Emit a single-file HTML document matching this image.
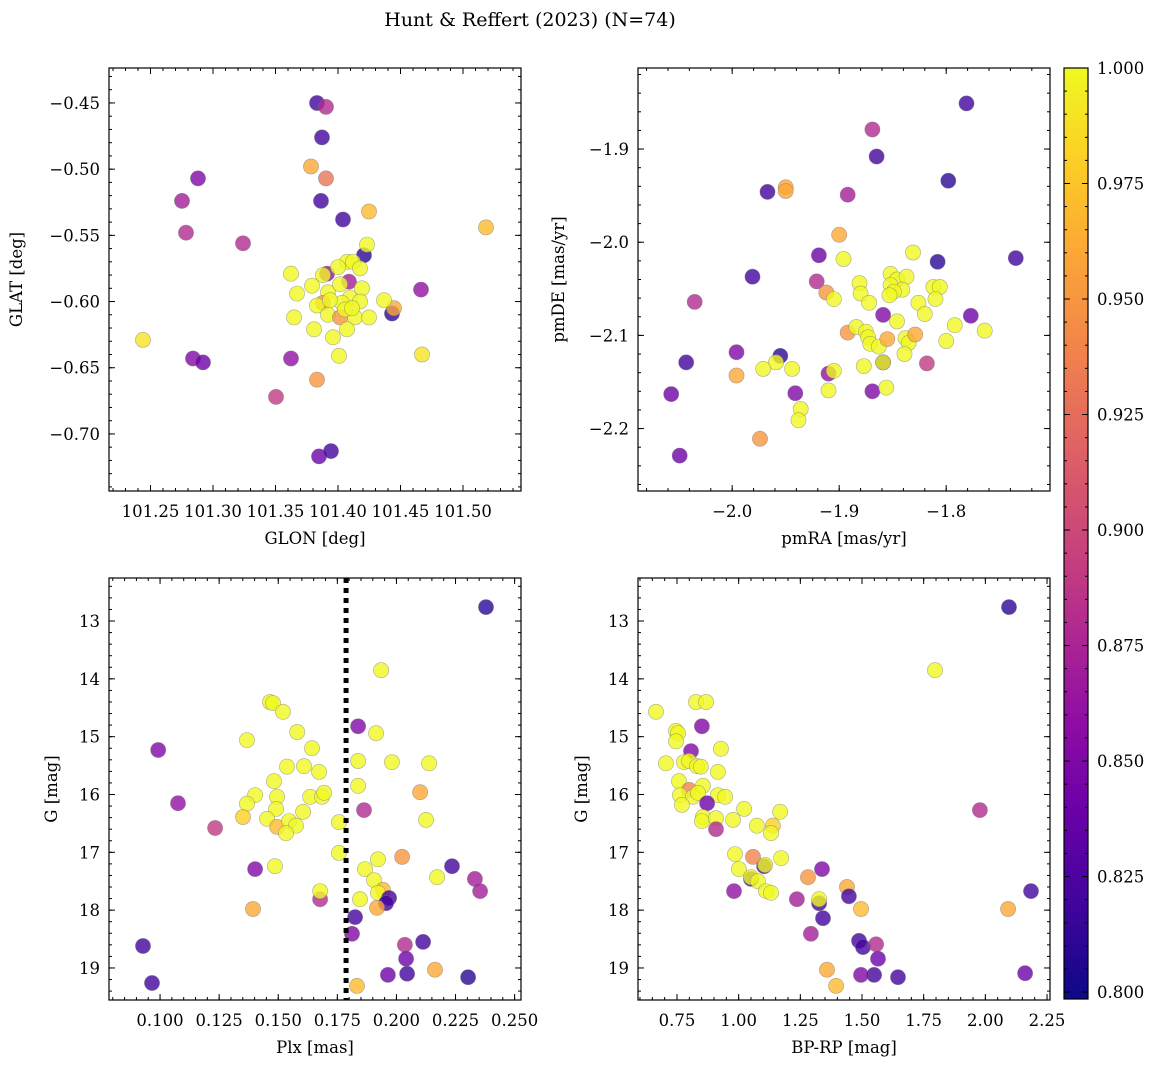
<!DOCTYPE html>
<html>
<head>
<meta charset="utf-8">
<style>
  html,body{margin:0;padding:0;background:#fff;}
  svg{display:block;font-family:"DejaVu Serif","Liberation Serif",serif;}
</style>
</head>
<body>
<svg id="fig" width="1161" height="1068" viewBox="0 0 1161 1068" xmlns="http://www.w3.org/2000/svg">
  <defs>
    <linearGradient id="plasma" x1="0" y1="1" x2="0" y2="0">
      <stop offset="0" stop-color="#0d0887"/>
      <stop offset="0.1" stop-color="#41049d"/>
      <stop offset="0.2" stop-color="#6a00a8"/>
      <stop offset="0.3" stop-color="#8f0da4"/>
      <stop offset="0.4" stop-color="#b12a90"/>
      <stop offset="0.5" stop-color="#cc4778"/>
      <stop offset="0.6" stop-color="#e16462"/>
      <stop offset="0.7" stop-color="#f2844b"/>
      <stop offset="0.8" stop-color="#fca636"/>
      <stop offset="0.9" stop-color="#fcce25"/>
      <stop offset="1" stop-color="#f0f921"/>
    </linearGradient>
  </defs>
  <text x="530" y="26" font-size="19" text-anchor="middle">Hunt &amp; Reffert (2023) (N=74)</text>
</svg>
<script>
// ---- Panel 1: GLON vs GLAT ----
const p1_glon=[101.3832,101.3904,101.3872,101.3784,101.3904,101.288,101.2752,101.3864,101.404,101.2784,
101.4248,101.5184,101.324,101.4208,101.4232,101.244,101.284,101.292,101.3624,101.3504,
101.3832,101.3848,101.3944,101.4664,101.4432,101.4448,101.4672,101.3624,101.3912,101.388,
101.4072,101.412,101.400,101.4176,101.4088,101.3792,101.3672,101.392,101.4016,101.4192,
101.4096,101.388,101.3832,101.4032,101.4176,101.4368,101.3648,101.392,101.4016,101.4136,
101.4248,101.3808,101.4072,101.396,101.4008,101.3936,101.4056,101.4112];
const p1_glat=[-0.450,-0.453,-0.476,-0.498,-0.507,-0.507,-0.524,-0.524,-0.538,-0.548,
-0.532,-0.544,-0.556,-0.565,-0.557,-0.629,-0.643,-0.646,-0.643,-0.672,
-0.659,-0.717,-0.713,-0.591,-0.609,-0.605,-0.640,-0.579,-0.579,-0.580,
-0.570,-0.570,-0.574,-0.575,-0.585,-0.588,-0.594,-0.593,-0.587,-0.590,
-0.597,-0.601,-0.603,-0.601,-0.600,-0.599,-0.612,-0.610,-0.612,-0.612,
-0.612,-0.621,-0.621,-0.627,-0.641,-0.599,-0.606,-0.605];
const p1_prob=[.82,.88,.82,.96,.93,.85,.87,.82,.82,.88,
.97,.97,.88,.81,1,.99,.85,.84,.86,.89,
.95,.84,.82,.86,.81,.96,.99,1,.86,1,
1,1,1,1,.87,1,1,1,1,1,
1,.95,1,1,1,1,1,1,.95,1,
1,1,1,1,1,1,1,1];

// ---- Panel 2: pmRA vs pmDE ----
const p2_pmra=[-1.781,-1.869,-1.865,-1.798,-1.967,-1.950,-1.950,-1.892,-1.900,-1.919,
-1.896,-1.831,-1.808,-1.735,-1.981,-1.921,-1.912,-1.905,-1.881,-1.880,
-1.872,-1.852,-1.846,-1.837,-1.852,-1.841,-1.849,-1.853,-1.812,-1.806,
-1.810,-1.826,-1.820,-1.859,-1.846,-1.792,-1.777,-1.764,-1.800,-1.892,
-1.884,-1.875,-1.873,-1.871,-1.863,-1.855,-1.838,-1.835,-1.829,-1.839,
-1.859,-1.818,-1.877,-1.944,-1.910,-1.905,-1.910,-1.941,-1.869,-1.856,
-2.035,-1.996,-1.955,-2.043,-1.959,-1.971,-1.996,-2.057,-1.936,-1.938,
-1.974,-2.049,-1.859];
const p2_pmde=[-1.851,-1.879,-1.908,-1.934,-1.946,-1.941,-1.945,-1.949,-1.992,-2.014,
-2.018,-2.011,-2.021,-2.017,-2.037,-2.042,-2.054,-2.061,-2.044,-2.055,
-2.065,-2.034,-2.040,-2.037,-2.046,-2.051,-2.053,-2.057,-2.048,-2.048,
-2.061,-2.065,-2.077,-2.078,-2.085,-2.089,-2.079,-2.095,-2.106,-2.097,
-2.091,-2.096,-2.102,-2.109,-2.112,-2.104,-2.103,-2.108,-2.099,-2.120,
-2.129,-2.130,-2.133,-2.136,-2.141,-2.138,-2.159,-2.162,-2.160,-2.156,
-2.064,-2.118,-2.122,-2.129,-2.129,-2.136,-2.143,-2.163,-2.179,-2.191,
-2.211,-2.229,-2.129];
const p2_prob=[.82,.88,.82,.81,.82,.96,.96,.87,.96,.84,
1,1,.81,.82,.82,.88,.95,1,1,1,
1,1,1,1,1,1,1,1,1,1,
1,1,1,.85,1,1,.84,1,1,.95,
1,1,1,1,1,.96,1,1,.96,1,
.82,.89,1,1,.86,1,1,.85,.85,1,
.88,.85,.81,.82,1,1,.96,.84,1,1,
.95,.84,1];

// ---- Panel 3: Plx vs G ----
const p3_plx=[0.2379,0.1935,0.0992,0.1368,0.1076,0.1233,0.2138,0.1981,0.1914,0.1838,
0.1838,0.1838,0.2100,0.1863,0.2125,0.1757,0.1757,0.1867,0.1922,0.1905,
0.2024,0.1402,0.1486,0.1677,0.1677,0.1943,0.1922,0.1969,0.1956,0.1846,
0.1393,0.1918,0.1825,0.1812,0.2235,0.2332,0.2172,0.2354,0.2113,0.2036,
0.2041,0.2163,0.2045,0.1964,0.0928,0.0966,0.2303,0.1833,
0.1465,0.1478,0.1520,0.1580,0.1643,0.1537,0.1609,0.1673,0.1482,0.1402,
0.1495,0.1635,0.1685,0.1694,0.1368,0.1491,0.1605,0.1351,0.1453,0.1495,
0.1546,0.1575,0.1533];
const p3_g=[12.76,13.85,15.23,15.06,16.15,16.58,15.46,15.44,14.94,14.82,
15.42,15.85,15.96,16.27,16.44,17.01,16.48,17.29,17.12,17.48,
17.08,17.29,17.24,17.81,17.67,17.65,17.70,17.79,17.88,17.81,
17.98,17.96,18.12,18.41,17.24,17.46,17.43,17.67,18.55,18.60,
18.84,19.03,19.10,19.12,18.62,19.26,19.16,19.31,
14.40,14.42,14.57,14.92,15.20,15.52,15.51,15.61,15.77,16.01,
16.04,16.04,16.04,15.97,16.16,16.25,16.30,16.39,16.42,16.56,
16.46,16.54,16.67];
const p3_prob=[.81,1,.85,1,.86,.89,1,1,1,.85,
1,1,.96,.88,1,1,1,1,1,1,
.95,.85,1,.88,1,.97,1,.82,.82,1,
.96,.96,.82,.85,.82,.87,1,.87,.82,.88,
.84,.96,.82,.84,.82,.82,.81,.97,
1,1,1,1,1,1,1,1,1,1,
1,1,1,1,1,1,1,.98,1,.97,
1,1,1];
const p3_cut=[0.1787];

// ---- Panel 4: BP-RP vs G ----
const p4_bprp=[0.665,0.827,0.868,0.851,0.746,0.754,0.746,0.807,0.928,0.705,
0.778,0.799,0.831,0.847,0.916,0.758,0.855,0.799,0.762,0.815,
0.835,0.916,0.945,0.770,0.872,0.855,0.851,0.908,0.908,0.977,
1.022,1.168,1.074,1.139,1.131,0.985,1.058,1.172,1.103,1.107,
1.001,1.050,1.050,1.078,1.111,1.131,0.981,1.281,1.338,1.236,
1.326,1.326,1.342,2.096,1.796,1.978,2.092,2.185,2.161,1.488,
1.504,1.557,1.565,1.549,1.496,1.358,1.395,1.293,1.439,1.447,
1.496,1.646];
const p4_g=[14.57,14.40,14.40,14.82,14.90,14.94,15.08,15.25,15.21,15.46,
15.44,15.42,15.51,15.52,15.61,15.77,15.85,15.92,16.01,16.04,
15.97,16.01,16.04,16.18,16.15,16.39,16.46,16.41,16.60,16.44,
16.25,16.30,16.54,16.54,16.67,17.03,17.08,17.10,17.24,17.22,
17.29,17.46,17.43,17.50,17.67,17.70,17.67,17.43,17.29,17.81,
17.88,17.81,18.14,12.76,13.85,16.27,17.98,17.67,19.09,18.53,
18.64,18.59,18.84,19.12,19.12,19.03,19.31,18.41,17.60,17.76,
17.98,19.16];
const p4_prob=[1,1,1,.85,1,1,1,.85,1,1,
1,1,1,1,1,1,1,.94,1,1,
1,1,1,1,.84,1,1,1,.88,1,
1,1,1,.98,1,1,.94,1,.82,1,
1,.82,1,1,1,1,.86,.95,.85,.87,
.82,1,.82,.81,1,.88,.96,.82,.84,.82,
.82,.88,.84,.82,.85,.96,.97,.87,.96,.82,
.97,.82];

// ---- Colorbar ----
const cbar_ticks=[0.800,0.825,0.850,0.875,0.900,0.925,0.950,0.975,1.000];
const cmin=0.7985, cmax=1.0;

const NS="http://www.w3.org/2000/svg";
const svg=document.getElementById('fig');
const stops=["#0d0887","#41049d","#6a00a8","#8f0da4","#b12a90","#cc4778","#e16462","#f2844b","#fca636","#fcce25","#f0f921"];
function hex2rgb(h){return [parseInt(h.substr(1,2),16),parseInt(h.substr(3,2),16),parseInt(h.substr(5,2),16)];}
function plasma(v){
  let t=(v-cmin)/(cmax-cmin); t=Math.max(0,Math.min(1,t));
  const f=t*10, i=Math.min(9,Math.floor(f)), r=f-i;
  const a=hex2rgb(stops[i]), b=hex2rgb(stops[i+1]);
  return 'rgb('+a.map((c,k)=>Math.round(c+(b[k]-c)*r)).join(',')+')';
}
function mk(tag,attrs,parent){const e=document.createElementNS(NS,tag);for(const k in attrs)e.setAttribute(k,attrs[k]);(parent||svg).appendChild(e);return e;}
function fmt(v,d){const s=Math.abs(v).toFixed(d);return (v<-1e-9?'\u2212':'')+s;}
const FS=16.5;

function panel(cfg){
  const g=mk('g',{});
  
  
  const L=cfg.box[0],T=cfg.box[1],R=cfg.box[2],B=cfg.box[3];
  const sx=v=>L+(v-cfg.xr[0])/(cfg.xr[1]-cfg.xr[0])*(R-L);
  const sy=cfg.yinv?(v=>T+(v-cfg.yr[0])/(cfg.yr[1]-cfg.yr[0])*(B-T)):(v=>B-(v-cfg.yr[0])/(cfg.yr[1]-cfg.yr[0])*(B-T));
  const pg=mk('g',{},g);
  
  
  for(let i=0;i<cfg.xs.length;i++){
    const c=mk('circle',{cx:sx(cfg.xs[i]).toFixed(1),cy:sy(cfg.ys[i]).toFixed(1),r:7.6,fill:plasma(cfg.cs[i]),'fill-opacity':0.8,stroke:'#777','stroke-opacity':0.6,'stroke-width':0.6},pg);
    
    
  }
  if(cfg.vline){
    for(const v of cfg.vline){
      const ln=mk('line',{x1:sx(v),x2:sx(v),y1:T,y2:B,stroke:'#000','stroke-width':5,'stroke-dasharray':'5,5'},g);
      
      
    }
  }
  const tg=mk('g',{stroke:'#000','stroke-width':1},g);
  
  
  const eps=1e-9;
  const n0=Math.ceil(cfg.xr[0]/cfg.xminor-eps), n1=Math.floor(cfg.xr[1]/cfg.xminor+eps);
  for(let n=n0;n<=n1;n++){const x=sx(n*cfg.xminor);mk('line',{x1:x,x2:x,y1:B,y2:B-3},tg);mk('line',{x1:x,x2:x,y1:T,y2:T+3},tg);}
  const m0=Math.ceil(cfg.yr[0]/cfg.yminor-eps), m1=Math.floor(cfg.yr[1]/cfg.yminor+eps);
  for(let n=m0;n<=m1;n++){const y=sy(n*cfg.yminor);mk('line',{y1:y,y2:y,x1:L,x2:L+3},tg);mk('line',{y1:y,y2:y,x1:R,x2:R-3},tg);}
  cfg.xticks.forEach(v=>{const x=sx(v);mk('line',{x1:x,x2:x,y1:B,y2:B-6},tg);mk('line',{x1:x,x2:x,y1:T,y2:T+6},tg);
    const t=mk('text',{x:x,y:B+26,'font-size':FS,'text-anchor':'middle'},g);t.textContent=fmt(v,cfg.xd);
    
    });
  cfg.yticks.forEach(v=>{const y=sy(v);mk('line',{y1:y,y2:y,x1:L,x2:L+6},tg);mk('line',{y1:y,y2:y,x1:R,x2:R-6},tg);
    const t=mk('text',{x:L-9,y:y+6,'font-size':FS,'text-anchor':'end'},g);t.textContent=fmt(v,cfg.yd);
    
    });
  const fr=mk('rect',{x:L,y:T,width:R-L,height:B-T,fill:'none',stroke:'#000','stroke-width':1.2},g);
  
  
  const xl=mk('text',{x:(L+R)/2,y:B+53,'font-size':FS,'text-anchor':'middle'},g);xl.textContent=cfg.xlabel;
  
  
  const yx=cfg.ylx, yy=(T+B)/2;
  const yl=mk('text',{x:yx,y:yy,'font-size':FS,'text-anchor':'middle',transform:'rotate(-90 '+yx+' '+yy+')'},g);yl.textContent=cfg.ylabel;
  
  
}

const range=(a,b,s)=>{const r=[];for(let v=a;v<=b+s*1e-6;v+=s)r.push(+v.toFixed(6));return r;};

panel({name:'glon-glat-panel',box:[109,68,521,491],xr:[101.2168,101.5464],yr:[-0.7431,-0.4236],
  xs:p1_glon,ys:p1_glat,cs:p1_prob,xticks:range(101.25,101.50,0.05),yticks:range(-0.70,-0.45,0.05),
  xminor:0.01,yminor:0.01,xd:2,yd:2,xlabel:'GLON [deg]',ylabel:'GLAT [deg]',ylx:22});
panel({name:'proper-motion-panel',box:[638,68,1050,491],xr:[-2.088,-1.703],yr:[-2.267,-1.813],
  xs:p2_pmra,ys:p2_pmde,cs:p2_prob,xticks:[-2.0,-1.9,-1.8],yticks:[-2.2,-2.1,-2.0,-1.9],
  xminor:0.02,yminor:0.02,xd:1,yd:1,xlabel:'pmRA [mas/yr]',ylabel:'pmDE [mas/yr]',ylx:564});
panel({name:'parallax-magnitude-panel',box:[109,578,521,1000],xr:[0.0784,0.2527],yr:[12.256,19.554],yinv:true,
  xs:p3_plx,ys:p3_g,cs:p3_prob,xticks:range(0.100,0.250,0.025),yticks:range(13,19,1),
  xminor:0.005,yminor:0.2,xd:3,yd:0,xlabel:'Plx [mas]',ylabel:'G [mag]',ylx:57,vline:p3_cut});
panel({name:'color-magnitude-panel',box:[638,578,1050,1000],xr:[0.592,2.262],yr:[12.256,19.554],yinv:true,
  xs:p4_bprp,ys:p4_g,cs:p4_prob,xticks:range(0.75,2.25,0.25),yticks:range(13,19,1),
  xminor:0.05,yminor:0.2,xd:2,yd:0,xlabel:'BP-RP [mag]',ylabel:'G [mag]',ylx:587});

(function(){
  const L=1064,R=1088,T=68,B=999;
  const g=mk('g',{});
  
  
  mk('rect',{x:L,y:T,width:R-L,height:B-T,fill:'url(#plasma)'},g);
  const sy=v=>B-(v-cmin)/(cmax-cmin)*(B-T);
  for(let v=0.800;v<=1.0001;v+=0.005){const y=sy(v);mk('line',{x1:R,x2:R-3,y1:y,y2:y,stroke:'#000'},g);mk('line',{x1:L,x2:L+3,y1:y,y2:y,stroke:'#000'},g);}
  cbar_ticks.forEach(v=>{const y=sy(v);
    mk('line',{x1:R,x2:R-6,y1:y,y2:y,stroke:'#000'},g);mk('line',{x1:L,x2:L+6,y1:y,y2:y,stroke:'#000'},g);
    const t=mk('text',{x:R+9,y:y+6,'font-size':FS},g);t.textContent=v.toFixed(3);
    
    });
  mk('rect',{x:L,y:T,width:R-L,height:B-T,fill:'none',stroke:'#000','stroke-width':1.2},g);
})();
</script>
</body>
</html>
